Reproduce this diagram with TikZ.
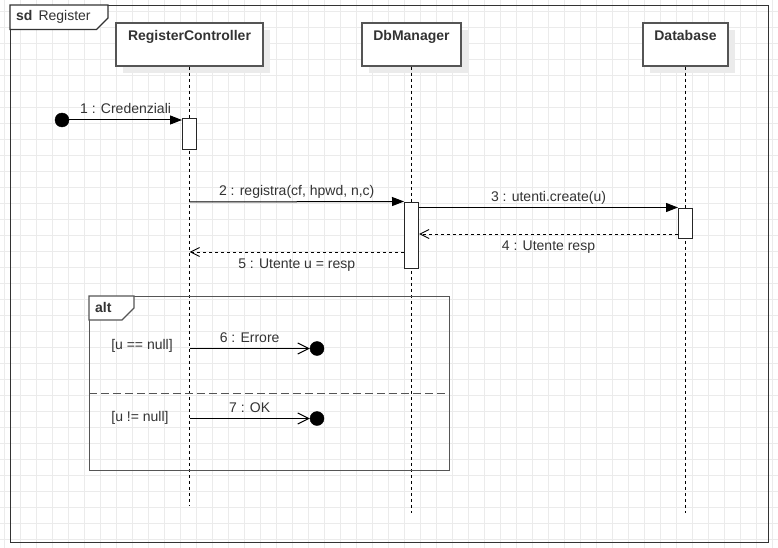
\documentclass[tikz,border=0pt]{standalone}
\usepackage{fontspec}
\setmainfont{Liberation Sans}
\usetikzlibrary{arrows.meta,shadows}

\definecolor{gridgray}{HTML}{EBEBEB}
\definecolor{ink}{HTML}{333333}
\definecolor{edge}{HTML}{555555}

\tikzset{
  every node/.style={font=\fontsize{14}{16}\selectfont, text=ink},
  gridline/.style={gridgray, line width=1pt},
  framebox/.style={draw=ink, line width=1.2pt, inner sep=0pt},
  tabline/.style={draw=ink, line width=1.2pt, fill=white, line join=miter},
  headbox/.style={draw=edge, line width=1.5pt, fill=white, inner sep=0pt,
    minimum width=#1, minimum height=43pt,
    drop shadow={shadow xshift=7pt, shadow yshift=-7pt, fill=black!8, opacity=1}},
  headtext/.style={font=\fontsize{14}{16}\selectfont\bfseries, anchor=base, inner sep=0pt},
  lifeline/.style={black, line width=1pt, dash pattern=on 3pt off 3pt},
  actbox/.style={draw=black!85, fill=white, line width=1pt, inner sep=0pt,
    minimum width=14pt, minimum height=#1},
  dot/.style={circle, fill=black, draw=black, minimum size=14pt, inner sep=0pt},
  sync/.style={black, line width=1pt, -{Triangle[length=12pt, width=9pt]}},
  reply/.style={black, line width=1pt, dash pattern=on 3pt off 3pt,
    -{Straight Barb[length=9pt, width=9pt]}},
  lost/.style={black, line width=1pt, -{Straight Barb[length=11pt, width=11pt]}},
  lblabove/.style={midway, anchor=base, yshift=6.5pt, inner sep=0pt},
  lblbelow/.style={midway, anchor=base, yshift=-16pt, inner sep=0pt},
  altbox/.style={draw=edge, line width=1.3pt, inner sep=0pt},
  altline/.style={draw=edge, line width=1.3pt, fill=white},
  sepline/.style={edge, line width=1.3pt, dash pattern=on 8pt off 4pt},
  plain/.style={anchor=base, inner sep=0pt}
}

\begin{document}
\begin{tikzpicture}[x=1pt, y=-1pt]
\useasboundingbox (0,0) rectangle (778,548);
\fill[white] (0,0) rectangle (778,548);

% background grid
\foreach \i in {0,...,48} \draw[gridline] (4.3+16*\i,0) -- (4.3+16*\i,548);
\foreach \j in {0,...,33} \draw[gridline] (0,11.3+16*\j) -- (778,11.3+16*\j);

% sequence diagram frame
\draw[black!25, line width=1pt] (11.5,542.8) -- (768.8,542.8) -- (768.8,6.5);
\node[framebox, minimum width=757.5pt, minimum height=536.5pt, anchor=north west] (sd) at (10,5) {};
\draw[tabline] (sd.north west) -- ++(98,0) -- ++(0,13) -- ++(-11.5,11.5) -- ++(-86.5,0) -- cycle;
\node[anchor=base west, inner sep=0pt] (sdlbl) at (16,21) {\textbf{sd}\hspace{6pt}Register};

% lifeline heads
\node[headbox=147pt] (rc)  at (189.5,44.5) {};
\node[headbox=99pt]  (dbm) at (411.5,44.5) {};
\node[headbox=85pt]  (db)  at (685.5,44.5) {};
\node[headtext] (rclbl)  at (189.5,41) {RegisterController};
\node[headtext] (dbmlbl) at (411.5,41) {DbManager};
\node[headtext] (dblbl)  at (685.5,41) {Database};

% lifelines
\coordinate (rcend)  at (189.5,505.5);
\coordinate (dbmend) at (411.5,512.5);
\coordinate (dbend)  at (685.5,512.5);
\draw[lifeline] (rc.south)  -- (rcend);
\draw[lifeline] (dbm.south) -- (dbmend);
\draw[lifeline] (db.south)  -- (dbend);

% activation bars
\node[actbox=31pt]   (act1) at (189.5,134.5) {};
\node[actbox=66pt]   (act2) at (411.5,235) {};
\node[actbox=30.5pt] (act3) at (685.5,223.25) {};

% messages
\node[dot] (s1) at (62,120) {};
\draw[sync] (s1) -- (s1 -| act1.west) node[lblabove] {1 : Credenziali};

\coordinate (m2) at (189.5,202);
\draw[sync] (m2) -- (act2.north west) node[lblabove] {2 : registra(cf, hpwd, n,c)};

\draw[sync] (act2.east |- act3.north) -- (act3.north west) node[lblabove] {3 : utenti.create(u)};

\coordinate (m4) at (0,234);
\draw[reply] (act3.west |- m4) -- (act2.east |- m4) node[lblbelow] {4 : Utente resp};

\coordinate (m5) at (0,252);
\draw[reply] (act2.west |- m5) -- (rc.south |- m5) node[lblbelow] {5 : Utente u = resp};

% alt combined fragment
\node[altbox, minimum width=360pt, minimum height=174pt, anchor=north west] (alt) at (89,296) {};
\draw[altline] (alt.north west) -- ++(45,0) -- ++(0,12) -- ++(-12,12) -- ++(-33,0) -- cycle;
\node[anchor=base west, inner sep=0pt, font=\fontsize{14}{16}\selectfont\bfseries] (altlbl) at (95,312) {alt};
\coordinate (sep) at (0,393.5);
\draw[sepline] (alt.west |- sep) -- (alt.east |- sep);

\node[plain] (g1) at (142,349) {[u == null]};
\node[plain] (g2) at (140,421.5) {[u != null]};

\node[dot] (e6) at (317,348.5) {};
\node[dot] (e7) at (317,418.5) {};
\draw[lost] (rc.south |- e6) -- (e6) node[lblabove, yshift=-0.5pt] {6 : Errore};
\draw[lost] (rc.south |- e7) -- (e7) node[lblabove] {7 : OK};
\end{tikzpicture}
\end{document}
